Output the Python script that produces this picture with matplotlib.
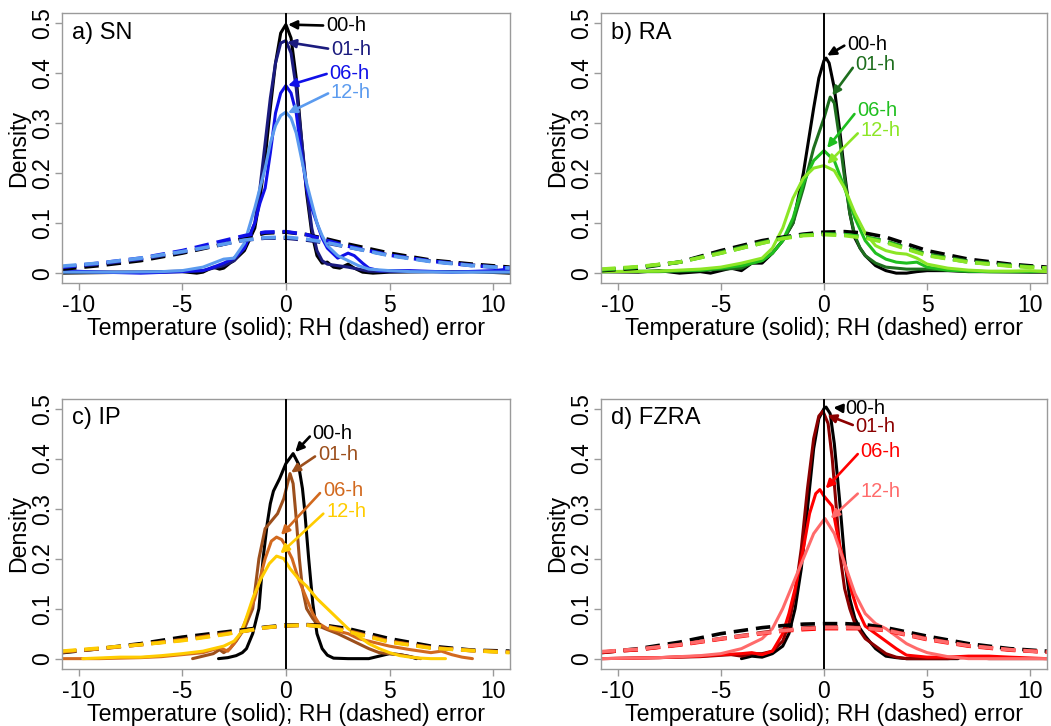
import matplotlib
matplotlib.use("Agg")
import matplotlib.pyplot as plt

plt.rcParams['font.family'] = ['Liberation Sans', 'DejaVu Sans']
TICK_SIZE = 16.5
LABEL_SIZE = 16.7
HOUR_SIZE = 14.5
FRAME = "#9a9a9a"

HOURS = ["00-h", "01-h", "06-h", "12-h"]

# --- colours per precipitation type ---
sn_colors = ["black", "#1b1b7e", "#1010e8", "#5b9bef"]
ra_colors = ["black", "#1e6e1e", "#1fbf1f", "#8ce626"]
ip_colors = ["black", "#9c4f1c", "#d2691e", "#ffcc00"]
fz_colors = ["black", "#8b0000", "#ff0000", "#ff6b6b"]

# --- RH error densities (dashed), common x grid ---
rh_x = [-10.8, -9, -7, -5, -3, -2, -1, 0, 1, 2, 3, 5, 7, 9, 10.8]

sn_rh = [
    [0.008, 0.015, 0.025, 0.040, 0.058, 0.070, 0.080, 0.082, 0.077, 0.068, 0.058, 0.040, 0.026, 0.018, 0.012],
    [0.012, 0.018, 0.028, 0.042, 0.058, 0.066, 0.070, 0.070, 0.066, 0.060, 0.052, 0.036, 0.024, 0.016, 0.010],
    [0.012, 0.020, 0.030, 0.045, 0.065, 0.075, 0.082, 0.083, 0.077, 0.065, 0.054, 0.036, 0.024, 0.015, 0.010],
    [0.014, 0.020, 0.030, 0.043, 0.058, 0.066, 0.071, 0.072, 0.068, 0.061, 0.052, 0.035, 0.023, 0.015, 0.010],
]
ra_rh = [
    [0.005, 0.010, 0.022, 0.045, 0.065, 0.072, 0.078, 0.082, 0.083, 0.080, 0.072, 0.045, 0.028, 0.018, 0.012],
    [0.006, 0.012, 0.022, 0.042, 0.062, 0.070, 0.076, 0.078, 0.077, 0.072, 0.064, 0.038, 0.024, 0.016, 0.010],
    [0.007, 0.012, 0.022, 0.040, 0.060, 0.070, 0.076, 0.078, 0.077, 0.072, 0.063, 0.036, 0.022, 0.015, 0.010],
    [0.008, 0.013, 0.022, 0.040, 0.060, 0.069, 0.075, 0.077, 0.075, 0.070, 0.061, 0.035, 0.022, 0.014, 0.010],
]
ip_rh = [
    [0.012, 0.020, 0.030, 0.043, 0.053, 0.058, 0.063, 0.067, 0.068, 0.066, 0.060, 0.040, 0.025, 0.017, 0.015],
    [0.013, 0.020, 0.028, 0.038, 0.050, 0.055, 0.062, 0.065, 0.067, 0.064, 0.056, 0.035, 0.022, 0.016, 0.013],
    [0.014, 0.020, 0.028, 0.037, 0.049, 0.055, 0.062, 0.066, 0.067, 0.064, 0.055, 0.034, 0.022, 0.016, 0.013],
    [0.015, 0.021, 0.028, 0.036, 0.048, 0.055, 0.062, 0.066, 0.067, 0.063, 0.054, 0.033, 0.021, 0.016, 0.012],
]
fz_rh = [
    [0.012, 0.020, 0.033, 0.050, 0.062, 0.066, 0.069, 0.070, 0.070, 0.068, 0.062, 0.045, 0.030, 0.020, 0.015],
    [0.013, 0.018, 0.028, 0.040, 0.052, 0.057, 0.061, 0.063, 0.063, 0.062, 0.058, 0.040, 0.026, 0.018, 0.013],
    [0.013, 0.018, 0.027, 0.039, 0.050, 0.055, 0.058, 0.060, 0.060, 0.060, 0.056, 0.038, 0.025, 0.017, 0.013],
    [0.014, 0.019, 0.028, 0.040, 0.051, 0.056, 0.060, 0.062, 0.062, 0.061, 0.057, 0.039, 0.026, 0.018, 0.013],
]

# --- Temperature error densities (solid) ---
sn_t = [
    ([-10.8, -7, -5, -4.3, -4, -3.5, -3.2, -3, -2.7, -2.5, -2, -1.5, -1.25, -1, -0.75, -0.5, -0.25, 0, 0.25, 0.5,
      0.75, 1, 1.25, 1.5, 1.75, 2, 2.3, 2.6, 3, 3.3, 3.7, 4.2, 5, 7, 9, 10.8],
     [0, 0.002, 0.003, 0.0, 0.002, 0.012, 0.008, 0.01, 0.02, 0.025, 0.045, 0.09, 0.15, 0.23, 0.33, 0.42, 0.48, 0.497,
      0.47, 0.39, 0.27, 0.16, 0.08, 0.035, 0.02, 0.022, 0.012, 0.01, 0.018, 0.01, 0.002, 0.0, 0.002, 0.003, 0.003, 0.0]),
    ([-10.8, -7, -5, -4, -3.5, -3, -2.5, -2, -1.5, -1.25, -1, -0.75, -0.5, -0.25, 0, 0.25, 0.5, 0.75, 1, 1.25, 1.5,
      1.75, 2, 2.5, 3, 3.5, 4, 5, 7, 10.8],
     [0.003, 0.002, 0.004, 0.005, 0.01, 0.015, 0.025, 0.05, 0.1, 0.17, 0.26, 0.35, 0.42, 0.46, 0.465, 0.44, 0.37, 0.27,
      0.17, 0.09, 0.045, 0.025, 0.018, 0.015, 0.012, 0.008, 0.004, 0.003, 0.003, 0.003]),
    ([-10.8, -9, -7, -5, -4, -3.5, -3, -2.5, -2, -1.5, -1.25, -1, -0.75, -0.5, -0.25, 0, 0.25, 0.5, 0.75, 1, 1.25,
      1.5, 1.75, 2, 2.5, 3, 3.3, 3.7, 4, 4.5, 5, 6, 8, 10, 10.8],
     [0.005, 0.002, 0.0, 0.003, 0.005, 0.012, 0.02, 0.03, 0.05, 0.1, 0.14, 0.17, 0.24, 0.32, 0.36, 0.375, 0.36, 0.32,
      0.24, 0.17, 0.13, 0.1, 0.07, 0.05, 0.03, 0.04, 0.035, 0.02, 0.01, 0.005, 0.005, 0.005, 0.002, 0.005, 0.008]),
    ([-10.8, -8, -6, -5, -4, -3.5, -3, -2.5, -2, -1.5, -1, -0.75, -0.5, -0.25, 0, 0.25, 0.5, 0.75, 1, 1.25, 1.5,
      1.75, 2, 2.5, 3, 3.5, 4, 5, 6, 8, 10.8],
     [0.002, 0.002, 0.003, 0.005, 0.012, 0.02, 0.028, 0.03, 0.06, 0.13, 0.21, 0.26, 0.295, 0.315, 0.322, 0.31, 0.28,
      0.23, 0.18, 0.14, 0.1, 0.075, 0.055, 0.035, 0.025, 0.015, 0.008, 0.005, 0.003, 0.002, 0.002]),
]
ra_t = [
    ([-10.8, -9, -8, -7, -6, -5.5, -5, -4.5, -4, -3.5, -3, -2.5, -2, -1.5, -1, -0.5, -0.25, 0, 0.1, 0.25, 0.5, 0.75,
      1, 1.25, 1.5, 1.75, 2, 2.5, 3, 3.5, 4, 4.5, 5, 6, 7, 8, 10, 10.8],
     [0.003, 0.002, 0.005, 0.0, 0.003, 0.0, 0.005, 0.01, 0.005, 0.02, 0.02, 0.04, 0.065, 0.1, 0.2, 0.33, 0.39, 0.425,
      0.43, 0.42, 0.37, 0.29, 0.2, 0.12, 0.07, 0.05, 0.035, 0.015, 0.005, 0.0, 0.0, 0.003, 0.005, 0.005, 0.003, 0.003,
      0.002, 0.002]),
    ([-10.8, -8, -6, -5, -4, -3.5, -3, -2.5, -2, -1.5, -1, -0.5, 0, 0.3, 0.5, 0.75, 1, 1.25, 1.5, 1.75, 2, 2.5, 3,
      3.5, 4, 5, 6, 7, 8, 10, 10.8],
     [0.003, 0.003, 0.005, 0.008, 0.01, 0.02, 0.025, 0.04, 0.065, 0.1, 0.17, 0.25, 0.31, 0.352, 0.34, 0.27, 0.19, 0.12,
      0.075, 0.05, 0.035, 0.02, 0.012, 0.01, 0.008, 0.008, 0.006, 0.004, 0.003, 0.003, 0.003]),
    ([-10.8, -8, -6, -5, -4, -3, -2.5, -2, -1.5, -1, -0.5, 0, 0.5, 1, 1.5, 2, 2.5, 3, 3.5, 4, 4.5, 5, 6, 7, 8, 10,
      10.8],
     [0.003, 0.004, 0.006, 0.01, 0.015, 0.025, 0.04, 0.065, 0.11, 0.18, 0.225, 0.245, 0.225, 0.17, 0.11, 0.065, 0.04,
      0.028, 0.022, 0.02, 0.022, 0.012, 0.006, 0.004, 0.003, 0.003, 0.004]),
    ([-10.8, -8, -6, -5, -4, -3, -2.5, -2, -1.5, -1, -0.5, 0, 0.5, 1, 1.5, 2, 2.5, 3, 3.5, 4, 4.5, 5, 6, 7, 8, 9, 10,
      10.8],
     [0.003, 0.004, 0.008, 0.012, 0.02, 0.03, 0.05, 0.09, 0.15, 0.19, 0.21, 0.215, 0.205, 0.17, 0.12, 0.08, 0.055,
      0.045, 0.04, 0.038, 0.03, 0.018, 0.01, 0.006, 0.004, 0.004, 0.005, 0.003]),
]
ip_t = [
    ([-3.25, -2.8, -2.4, -2.1, -1.9, -1.6, -1.3, -1.1, -0.9, -0.75, -0.6, -0.3, 0, 0.35, 0.6, 0.8, 0.9, 1.1, 1.3, 1.5,
      1.75, 2.0, 2.3, 3, 4, 4.5, 5, 5.5, 6, 6.3],
     [0.0, 0.002, 0.006, 0.012, 0.02, 0.05, 0.1, 0.2, 0.27, 0.31, 0.335, 0.36, 0.39, 0.41, 0.39, 0.34, 0.3, 0.2, 0.11,
      0.05, 0.02, 0.007, 0.001, 0.0, 0.0, 0.005, 0.01, 0.008, 0.004, 0.0]),
    ([-4.5, -4, -3.5, -3.2, -3, -2.7, -2.4, -2, -1.6, -1.3, -1.0, -0.7, -0.4, -0.1, 0.2, 0.35, 0.5, 0.65, 0.8, 1.0,
      1.3, 1.6, 2, 2.5, 3, 3.5, 4, 4.5, 5, 5.5, 6, 6.5],
     [0.0, 0.005, 0.01, 0.018, 0.012, 0.02, 0.035, 0.06, 0.1, 0.2, 0.26, 0.275, 0.29, 0.32, 0.37, 0.35, 0.28, 0.2,
      0.14, 0.1, 0.08, 0.065, 0.058, 0.05, 0.04, 0.03, 0.02, 0.012, 0.01, 0.008, 0.004, 0.0]),
    ([-10.8, -9, -7, -6, -5, -4, -3.5, -3.2, -2.8, -2.5, -2.2, -2, -1.5, -1, -0.7, -0.45, -0.2, 0, 0.3, 0.6, 1, 1.3,
      1.6, 2, 2.5, 3, 3.5, 4, 5, 6, 7, 7.5, 8, 8.5, 9],
     [0.0, 0.0, 0.002, 0.004, 0.008, 0.012, 0.018, 0.022, 0.015, 0.03, 0.05, 0.07, 0.12, 0.2, 0.235, 0.243, 0.238,
      0.225, 0.2, 0.16, 0.12, 0.09, 0.07, 0.06, 0.055, 0.05, 0.04, 0.035, 0.025, 0.018, 0.012, 0.015, 0.008, 0.003,
      0.0]),
    ([-9.8, -8, -7, -6, -5, -4, -3.5, -3, -2.5, -2.2, -2, -1.6, -1.2, -0.8, -0.45, -0.1, 0.2, 0.6, 1, 1.5, 2, 2.5, 3,
      3.5, 4, 4.5, 5, 5.5, 6, 6.5, 7, 7.7],
     [0.0, 0.003, 0.003, 0.006, 0.01, 0.015, 0.02, 0.025, 0.035, 0.05, 0.07, 0.12, 0.16, 0.19, 0.205, 0.2, 0.18, 0.16,
      0.145, 0.12, 0.1, 0.08, 0.06, 0.045, 0.03, 0.02, 0.012, 0.006, 0.003, 0.001, 0.0, 0.0]),
]
fz_t = [
    ([-4, -3.5, -3, -2.5, -2, -1.7, -1.4, -1.1, -0.8, -0.5, -0.25, 0, 0.1, 0.3, 0.5, 0.75, 1, 1.25, 1.5, 1.75, 2, 2.5,
      3, 3.5, 4, 5, 6, 6.5],
     [0.0, 0.005, 0.003, 0.01, 0.025, 0.05, 0.1, 0.18, 0.3, 0.42, 0.48, 0.5, 0.503, 0.49, 0.43, 0.32, 0.2, 0.12, 0.08,
      0.06, 0.045, 0.02, 0.005, 0.002, 0.0, 0.0, 0.0, 0.0]),
    ([-10.8, -8, -6, -4.5, -4, -3.5, -3, -2.5, -2, -1.7, -1.4, -1.1, -0.8, -0.5, -0.25, -0.05, 0.2, 0.4, 0.6, 0.8, 1,
      1.25, 1.5, 2, 2.5, 3, 3.5, 4, 5, 6, 7, 8, 10.8],
     [0.0, 0.002, 0.004, 0.008, 0.005, 0.01, 0.01, 0.015, 0.035, 0.07, 0.13, 0.22, 0.34, 0.44, 0.485, 0.495, 0.47, 0.4,
      0.3, 0.2, 0.14, 0.1, 0.07, 0.04, 0.025, 0.01, 0.003, 0.0, 0.0, 0.0, 0.003, 0.0, 0.0]),
    ([-10.8, -8, -6, -5, -4, -3.5, -3, -2.5, -2, -1.7, -1.4, -1, -0.7, -0.4, -0.2, 0, 0.2, 0.4, 0.6, 0.8, 1, 1.3, 1.6,
      2, 2.5, 3, 3.5, 4, 5, 6, 7, 8, 9, 10.8],
     [0.0, 0.002, 0.005, 0.008, 0.01, 0.012, 0.008, 0.015, 0.05, 0.09, 0.14, 0.22, 0.29, 0.33, 0.338, 0.325, 0.315,
      0.305, 0.26, 0.22, 0.19, 0.14, 0.1, 0.065, 0.05, 0.035, 0.02, 0.007, 0.003, 0.003, 0.005, 0.005, 0.003, 0.0]),
    ([-10.8, -8, -6, -5, -4, -3, -2.5, -2, -1.5, -1, -0.5, 0, 0.05, 0.5, 1, 1.5, 2, 2.5, 3, 3.5, 4, 4.5, 5, 6, 7,
      10.8],
     [0.0, 0.002, 0.006, 0.01, 0.02, 0.04, 0.06, 0.1, 0.15, 0.2, 0.25, 0.278, 0.28, 0.25, 0.19, 0.13, 0.09, 0.07, 0.06,
      0.045, 0.03, 0.02, 0.012, 0.004, 0.0, 0.0]),
]

# --- hour labels: (text x, text y, arrow tip x, arrow tip y) ---
sn_lab = [(1.93, 0.495, 0.1, 0.497), (2.17, 0.448, 0.05, 0.462), (2.1, 0.40, 0.1, 0.375), (2.17, 0.362, 0.1, 0.32)]
ra_lab = [(1.12, 0.458, 0.15, 0.435), (1.53, 0.418, 0.4, 0.355), (1.61, 0.325, 0.15, 0.25), (1.77, 0.285, 0.15, 0.218)]
ip_lab = [(1.29, 0.45, 0.45, 0.413), (1.54, 0.408, 0.25, 0.372), (1.78, 0.337, -0.24, 0.247), (1.94, 0.295, -0.27, 0.21)]
fz_lab = [(1.05, 0.50, 0.45, 0.502), (1.53, 0.465, 0.16, 0.487), (1.77, 0.415, 0.08, 0.34), (1.77, 0.335, 0.32, 0.28)]

panels = [
    ("a) SN", sn_colors, sn_t, sn_rh, sn_lab),
    ("b) RA", ra_colors, ra_t, ra_rh, ra_lab),
    ("c) IP", ip_colors, ip_t, ip_rh, ip_lab),
    ("d) FZRA", fz_colors, fz_t, fz_rh, fz_lab),
]

# axes rectangles in figure fraction (left, bottom, width, height)
rects = [
    (0.059, 0.610, 0.426, 0.372),
    (0.572, 0.610, 0.424, 0.372),
    (0.059, 0.079, 0.426, 0.372),
    (0.572, 0.079, 0.424, 0.372),
]

fig = plt.figure(figsize=(10.51, 7.26), dpi=100)

for rect, (title, colors, temp, rh, labs) in zip(rects, panels):
    ax = fig.add_axes(rect)

    for (tx, ty), c in zip(temp, colors):
        ax.plot(tx, ty, color=c, lw=2.2, solid_capstyle="round")
    for ry, c in zip(rh, colors):
        ax.plot(rh_x, ry, color=c, lw=2.6, dashes=(4.0, 2.2))

    ax.axvline(0, color="black", lw=1.4, zorder=5)

    for h, c, (lx, ly, px, py) in zip(HOURS, colors, labs):
        ax.annotate(h, xy=(px, py), xytext=(lx, ly), color=c, fontsize=HOUR_SIZE,
                    ha="left", va="center", zorder=6,
                    arrowprops=dict(arrowstyle="-|>,head_length=0.35,head_width=0.17",
                                    color=c, lw=1.9, shrinkA=0, shrinkB=0,
                                    relpos=(0, 0.5)))

    ax.text(-10.3, 0.481, title, fontsize=17, ha="left", va="center")

    ax.set_xlim(-10.8, 10.8)
    ax.set_ylim(-0.02, 0.52)
    ax.set_xticks([-10, -5, 0, 5, 10])
    ax.set_xticklabels(["-10", "-5", "0", "5", "10"])
    ax.set_yticks([0, 0.1, 0.2, 0.3, 0.4, 0.5])
    ax.set_yticklabels(["0", "0.1", "0.2", "0.3", "0.4", "0.5"])
    for lab in ax.get_yticklabels():
        lab.set_rotation(90)
        lab.set_va("center")
    ax.tick_params(axis="both", colors=FRAME, labelcolor="black", labelsize=TICK_SIZE,
                   length=5, width=1)
    ax.tick_params(axis="x", pad=3)
    ax.tick_params(axis="y", pad=0.5)
    for sp in ax.spines.values():
        sp.set_color(FRAME)
        sp.set_linewidth(1)

    ax.set_xlabel("Temperature (solid); RH (dashed) error", fontsize=LABEL_SIZE, labelpad=0)
    ax.set_ylabel("Density", fontsize=LABEL_SIZE, labelpad=1)

fig.savefig("out.png", dpi=100)
